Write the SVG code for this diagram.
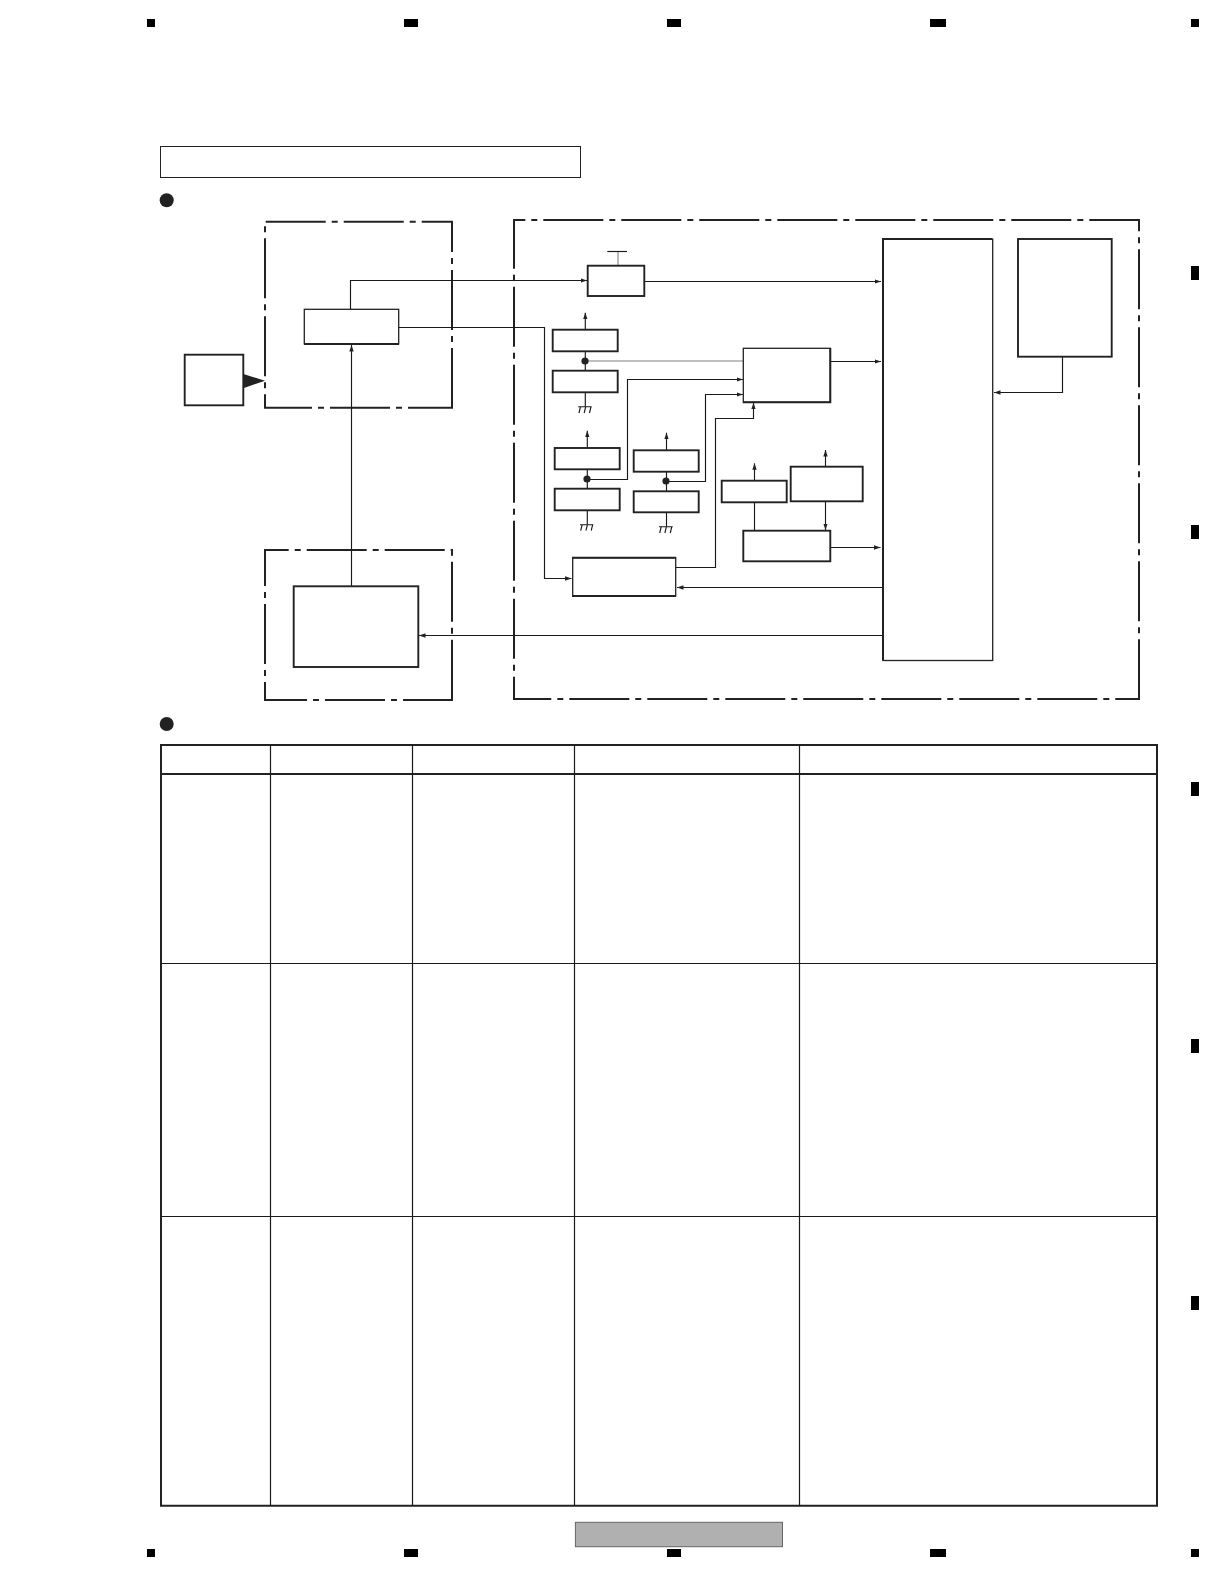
<svg xmlns="http://www.w3.org/2000/svg" width="1224" height="1584" viewBox="0 0 1224 1584">
<style>
.bg{fill:#fff}
.n{fill:#fff;stroke:#222;stroke-width:1.9}
.t{fill:#fff;stroke:#222;stroke-width:1.3}
.d{fill:none;stroke:#222;stroke-width:2;stroke-dasharray:60 6 6 6}
.c{fill:none;stroke:#1a1a1a;stroke-width:1.15}
.g{fill:none;stroke:#aaa;stroke-width:1.6}
.a{marker-end:url(#arr)}
.m{fill:#000}
.dot{fill:#222}
.r{stroke:#1a1a1a;stroke-width:1.2;fill:none}
.R{stroke:#222;stroke-width:2;fill:none}
</style>
<defs>
<marker id="arr" markerUnits="userSpaceOnUse" markerWidth="7" markerHeight="5" refX="6.5" refY="2.2" orient="auto"><path d="M0 0L6.5 2.2L0 4.4Z" fill="#222"/></marker>
</defs>
<rect class="bg" width="1224" height="1584"/>
<g id="registration-marks" class="m">
<rect x="147" y="19" width="8" height="8"/><rect x="404" y="19" width="14" height="8"/><rect x="667" y="19" width="14" height="8"/><rect x="930" y="19" width="16" height="8"/><rect x="1191" y="19" width="8" height="8"/>
<rect x="147" y="1549" width="8" height="8"/><rect x="404" y="1549" width="14" height="8"/><rect x="667" y="1549" width="14" height="8"/><rect x="930" y="1549" width="16" height="8"/><rect x="1191" y="1549" width="8" height="8"/>
<rect x="1191" y="266" width="8" height="14"/><rect x="1191" y="525" width="8" height="14"/><rect x="1191" y="782" width="8" height="14"/><rect x="1191" y="1039" width="8" height="14"/><rect x="1191" y="1296" width="8" height="14"/>
</g>
<g id="title-box"><rect x="160.5" y="146.5" width="420" height="31" fill="#fff" stroke="#222" stroke-width="1"/></g>
<circle id="bullet-1" class="dot" cx="166.7" cy="200.3" r="7"/>
<circle id="bullet-2" class="dot" cx="166.7" cy="724" r="7"/>
<g id="boundary-1">
<line class="d" x1="264" y1="221.7" x2="453" y2="221.7" stroke-dashoffset="76.3"/>
<line class="d" x1="452" y1="221.7" x2="452" y2="408" stroke-dashoffset="29.7"/>
<line class="d" x1="264" y1="407.7" x2="453" y2="407.7" stroke-dashoffset="12"/>
<line class="d" x1="265" y1="221.7" x2="265" y2="408" stroke-dashoffset="61.4"/>
</g>
<g id="boundary-2">
<line class="d" x1="264" y1="550" x2="453" y2="550" stroke-dashoffset="35.3"/>
<line class="d" x1="452" y1="550" x2="452" y2="700.7" stroke-dashoffset="66.3"/>
<line class="d" x1="264" y1="700" x2="453" y2="700" stroke-dashoffset="17"/>
<line class="d" x1="265" y1="550" x2="265" y2="700.7" stroke-dashoffset="24"/>
</g>
<g id="boundary-3">
<line class="d" x1="513" y1="220" x2="1140" y2="220" stroke-dashoffset="47.7"/>
<line class="d" x1="1139" y1="220" x2="1139" y2="699.7" stroke-dashoffset="48.7"/>
<line class="d" x1="513" y1="699" x2="1140" y2="699" stroke-dashoffset="21.7"/>
<line class="d" x1="514" y1="220" x2="514" y2="699.7" stroke-dashoffset="11.3"/>
</g>
<g id="connectors">
<path class="c a" d="M350.5 309V280.5H587"/>
<path class="c a" d="M398.7 327.5H544.5V578.5H571.5"/>
<path class="c a" d="M351.5 586V345"/>
<path class="c a" d="M644 281.5H881"/>
<path class="g" d="M618 266V251.3"/>
<path class="c" d="M607.3 251.5H627"/>
<path class="c a" d="M585.3 330V312.7"/>
<path class="c" d="M585.3 351V371M585.3 392V406.7"/>
<path class="g" d="M585 361H743.5"/>
<path class="c a" d="M830 361.5H881"/>
<path class="c a" d="M587 479.5H627.5V379.5H743"/>
<path class="c a" d="M666 481.5H705.5V394.5H743"/>
<path class="c a" d="M675.7 567.5H715.5V418.5H753.5V402.7"/>
<path class="c a" d="M587.3 448V430.7"/>
<path class="c" d="M587.3 469V489M587.3 510V524.7"/>
<path class="c a" d="M666.5 450V432.7"/>
<path class="c" d="M666.5 471.5V491.5M666.5 512V526.7"/>
<path class="c a" d="M754.5 481V463.3"/>
<path class="c" d="M754.5 502V531"/>
<path class="c a" d="M825.5 467V450"/>
<path class="c a" d="M825.5 501V530"/>
<path class="c a" d="M830 547.5H880.5"/>
<path class="c a" d="M883 587.5H677"/>
<path class="c a" d="M883 635.5H419"/>
<path class="c a" d="M1062.5 356.7V392.5H994"/>
<path class="c" d="M578.3 406.7H591.7M580.5 406.7L579 413M585.7 406.7L584.2 413M591 406.7L589.5 413"/>
<path class="c" d="M580 524.7H593.3M582.2 524.7L580.7 530.7M587.4 524.7L585.9 530.7M592.7 524.7L591.2 530.7"/>
<path class="c" d="M659 526.7H672.7M661.2 526.7L659.7 533M666.4 526.7L664.9 533M671.8 526.7L670.3 533"/>
<circle class="dot" cx="585" cy="361" r="3.6"/>
<circle class="dot" cx="587" cy="479" r="3.6"/>
<circle class="dot" cx="666" cy="481" r="3.6"/>
</g>
<g id="source-box"><rect class="n" x="184.7" y="354.7" width="58.6" height="50.6"/><path d="M243.3 374L265 380.7L243.3 388.3Z" fill="#222"/></g>
<g id="box-a"><rect class="t" x="304.3" y="309.3" width="94.4" height="34.5"/><path class="R" d="M304 344H399"/></g>
<g id="box-b"><rect class="n" x="587.7" y="265.7" width="56.6" height="30.3"/></g>
<g id="box-c1"><rect class="n" x="552.7" y="329.7" width="65" height="21.6"/></g>
<g id="box-c2"><rect class="n" x="552.7" y="370.7" width="65" height="21.6"/></g>
<g id="box-d"><rect class="t" x="743.3" y="348.3" width="87" height="54"/><path class="R" d="M743 402.3H830.3V348"/></g>
<g id="box-e1"><rect class="n" x="554.7" y="448" width="65" height="21.3"/></g>
<g id="box-e2"><rect class="n" x="554.7" y="488.7" width="65" height="21.6"/></g>
<g id="box-g1"><rect class="n" x="633.7" y="450.3" width="65" height="21.4"/></g>
<g id="box-g2"><rect class="n" x="633.7" y="491.3" width="65" height="21"/></g>
<g id="box-h"><rect class="n" x="721.7" y="480.7" width="65" height="21.6"/></g>
<g id="box-i"><rect class="n" x="790.7" y="466.7" width="72" height="34.6"/></g>
<g id="box-j"><rect class="n" x="743.3" y="530.7" width="87" height="30.6"/></g>
<g id="box-f"><rect class="t" x="572.7" y="557.7" width="103" height="38.3"/><path class="R" d="M572 557.7H676M572 596H676"/></g>
<g id="box-k"><rect class="n" x="293.7" y="586.3" width="124.6" height="80.7"/></g>
<g id="box-l"><rect class="t" x="883" y="239" width="109.7" height="421.5"/><path class="R" d="M883 660.5V239H992"/></g>
<g id="box-m"><rect class="n" x="1018" y="239" width="93.7" height="117.7"/></g>
<g id="table">
<path class="R" d="M161 745H1157V1505.7H161ZM161 774H1157"/>
<path class="r" d="M161 963.5H1157M161 1216.5H1157M270.5 745V1505.7M412.5 745V1505.7M574.5 745V1505.7M799.5 745V1505.7"/>
</g>
<g id="footer"><rect x="575.4" y="1522.3" width="207.1" height="24.4" fill="#b0b0b0" stroke="#666" stroke-width="1"/></g>
</svg>
